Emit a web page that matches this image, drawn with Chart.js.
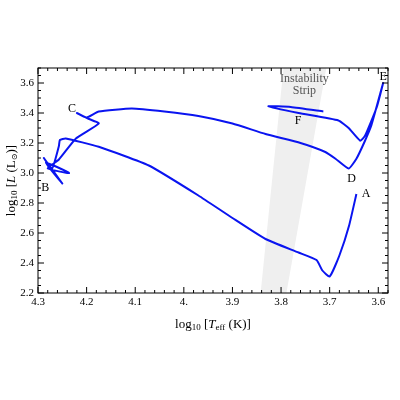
<!DOCTYPE html>
<html>
<head>
<meta charset="utf-8">
<script src="https://cdn.jsdelivr.net/npm/chart.js@4/dist/chart.umd.min.js"></script>
<style>html,body{margin:0;padding:0;background:#fff}</style>
</head>
<body>
<canvas id="hr" width="400" height="400" style="width:400px;height:400px"></canvas>
<script>
// evolutionary track: log Teff, log L
const trackT = [3.645, 3.66, 3.68, 3.70, 3.715, 3.727, 3.764, 3.832, 3.90, 3.97, 4.072, 4.175, 4.243, 4.255, 4.257, 4.271,
  4.288, 4.25, 4.284, 4.236, 4.28, 4.257, 4.222, 4.175, 4.195, 4.22, 4.2, 4.175, 4.107, 4.04, 3.97, 3.90, 3.832, 3.76,
  3.709, 3.688, 3.661, 3.645, 3.628, 3.614, 3.59, 3.603, 3.627, 3.637, 3.661, 3.682, 3.764, 3.826, 3.78, 3.713];
const trackL = [2.86, 2.65, 2.45, 2.31, 2.35, 2.42, 2.47, 2.56, 2.70, 2.85, 3.05, 3.175, 3.23, 3.22, 3.18, 3.03,
  3.10, 2.93, 3.07, 3.0, 3.03, 3.09, 3.23, 3.33, 3.36, 3.40, 3.37, 3.41, 3.43, 3.41, 3.38, 3.33, 3.26, 3.20,
  3.14, 3.095, 3.03, 3.095, 3.21, 3.32, 3.60, 3.44, 3.25, 3.215, 3.30, 3.35, 3.40, 3.445, 3.44, 3.41];
// instability strip edges
const stripBlueT = [3.795, 3.842];
const stripRedT = [3.707, 3.789];
const stripL = [3.7, 2.2];
const pointLabels = ['A', 'B', 'C', 'D', 'E', 'F'];
const labelT = [3.625, 4.285, 4.23, 3.655, 3.59, 3.765];
const labelL = [2.86, 2.90, 3.43, 2.96, 3.64, 3.345];
const xTicks = [4.3, 4.2, 4.1, 4.0, 3.9, 3.8, 3.7, 3.6];
const yTicks = [2.2, 2.4, 2.6, 2.8, 3.0, 3.2, 3.4, 3.6];

const serif = '"Liberation Serif", "DejaVu Serif", serif';

const toPts = (xs, ys) => xs.map((x, i) => ({ x, y: ys[i] }));

const stripPlugin = {
  id: 'strip',
  beforeDatasetsDraw(chart) {
    const { ctx, chartArea: a, scales: { x, y } } = chart;
    ctx.save();
    ctx.beginPath();
    ctx.rect(a.left, a.top, a.right - a.left, a.bottom - a.top);
    ctx.clip();
    ctx.beginPath();
    ctx.moveTo(x.getPixelForValue(stripBlueT[0]), y.getPixelForValue(stripL[0]));
    ctx.lineTo(x.getPixelForValue(stripRedT[0]), y.getPixelForValue(stripL[0]));
    ctx.lineTo(x.getPixelForValue(stripRedT[1]), y.getPixelForValue(stripL[1]));
    ctx.lineTo(x.getPixelForValue(stripBlueT[1]), y.getPixelForValue(stripL[1]));
    ctx.closePath();
    ctx.fillStyle = '#efefef';
    ctx.fill();
    ctx.restore();
  }
};

const framePlugin = {
  id: 'frame',
  afterDraw(chart) {
    const { ctx, chartArea: a, scales: { x, y } } = chart;
    ctx.save();
    ctx.strokeStyle = '#000';
    ctx.lineWidth = 1;
    ctx.strokeRect(a.left, a.top, a.right - a.left, a.bottom - a.top);
    ctx.beginPath();
    for (let v = 3.58; v <= 4.3001; v += 0.02) {
      const px = x.getPixelForValue(v);
      const major = Math.abs(v * 10 - Math.round(v * 10)) < 0.01;
      const len = major ? 6 : 3;
      ctx.moveTo(px, a.bottom); ctx.lineTo(px, a.bottom - len);
      ctx.moveTo(px, a.top); ctx.lineTo(px, a.top + len);
    }
    for (let v = 2.2; v <= 3.7001; v += 0.05) {
      const py = y.getPixelForValue(v);
      const major = Math.abs(v * 5 - Math.round(v * 5)) < 0.01;
      const len = major ? 6 : 3;
      ctx.moveTo(a.left, py); ctx.lineTo(a.left + len, py);
      ctx.moveTo(a.right, py); ctx.lineTo(a.right - len, py);
    }
    ctx.stroke();
    ctx.fillStyle = '#000';
    ctx.font = '11px ' + serif;
    ctx.textAlign = 'center';
    ctx.textBaseline = 'top';
    xTicks.forEach(v => {
      const s = v === 4 ? '4.' : v.toFixed(1);
      ctx.fillText(s, x.getPixelForValue(v), a.bottom + 4);
    });
    ctx.textAlign = 'right';
    ctx.textBaseline = 'middle';
    yTicks.forEach(v => ctx.fillText(v.toFixed(1), a.left - 4, y.getPixelForValue(v)));

    // point labels
    ctx.font = '12px ' + serif;
    ctx.textAlign = 'center';
    pointLabels.forEach((t, i) => ctx.fillText(t, x.getPixelForValue(labelT[i]), y.getPixelForValue(labelL[i])));
    ctx.fillStyle = '#555';
    ctx.fillText('Instability', x.getPixelForValue(3.752), y.getPixelForValue(3.63));
    ctx.fillText('Strip', x.getPixelForValue(3.752), y.getPixelForValue(3.55));

    // axis titles
    ctx.fillStyle = '#000';
    const cx = (a.left + a.right) / 2;
    const ty = 325;
    ctx.textAlign = 'left';
    const parts = [['log', 13, 0, ''], ['10', 9, 3, ''], [' [', 13, 0, ''], ['T', 13, 0, 'italic '], ['eff', 9, 3, ''], [' (K)]', 13, 0, '']];
    let w = 0;
    parts.forEach(p => { ctx.font = p[3] + p[1] + 'px ' + serif; w += ctx.measureText(p[0]).width; });
    let px = cx - w / 2;
    parts.forEach(p => { ctx.font = p[3] + p[1] + 'px ' + serif; ctx.fillText(p[0], px, ty + p[2]); px += ctx.measureText(p[0]).width; });

    ctx.translate(12, (a.top + a.bottom) / 2);
    ctx.rotate(-Math.PI / 2);
    const yparts = [['log', 13, 0, ''], ['10', 9, 3, ''], [' [', 13, 0, ''], ['L', 13, 0, 'italic '], [' (L', 13, 0, ''], ['\u2299', 8, 3, ''], [')]', 13, 0, '']];
    w = 0;
    yparts.forEach(p => { ctx.font = p[3] + p[1] + 'px ' + serif; w += ctx.measureText(p[0]).width; });
    px = -w / 2;
    yparts.forEach(p => { ctx.font = p[3] + p[1] + 'px ' + serif; ctx.fillText(p[0], px, p[2]); px += ctx.measureText(p[0]).width; });
    ctx.restore();
  }
};

new Chart(document.getElementById('hr'), {
  type: 'scatter',
  data: {
    datasets: [
      {
        data: toPts(trackT, trackL), showLine: true, borderColor: '#0a14f0',
        borderWidth: 2, pointRadius: 0, tension: 0.15
      }
    ]
  },
  options: {
    responsive: false,
    animation: false,
    devicePixelRatio: 1,
    layout: { padding: { left: 38, right: 12, top: 68, bottom: 107 } },
    plugins: { legend: { display: false }, tooltip: { enabled: false } },
    scales: {
      x: { type: 'linear', reverse: true, min: 3.58, max: 4.3, display: false },
      y: { type: 'linear', min: 2.2, max: 3.7, display: false }
    }
  },
  plugins: [stripPlugin, framePlugin]
});
</script>
</body>
</html>
